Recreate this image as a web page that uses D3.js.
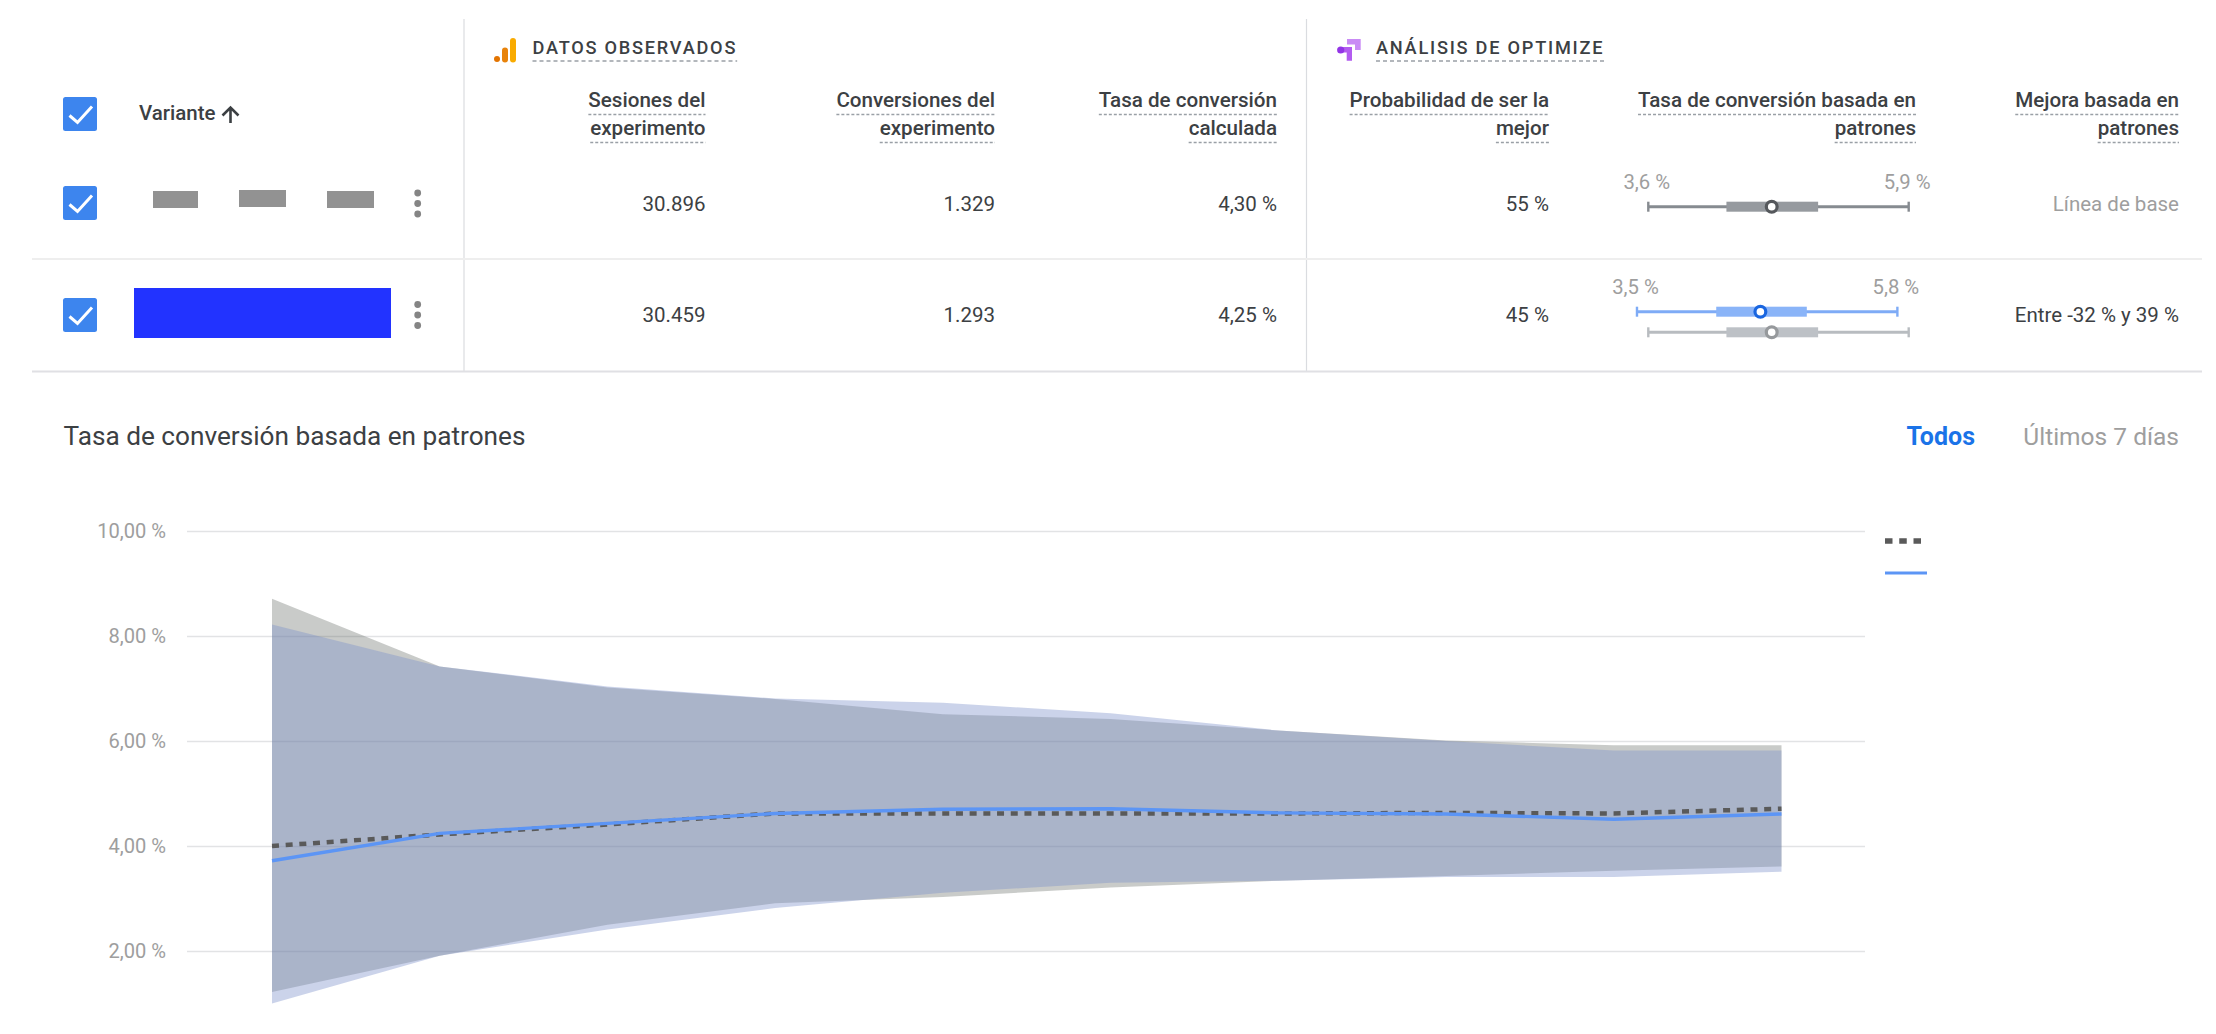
<!DOCTYPE html>
<html>
<head>
<meta charset="utf-8">
<script src="https://cdn.jsdelivr.net/npm/d3@7"></script>
<style>
  html, body { margin: 0; background: #fff; }
  svg { display: block; }
  text { font-family: Roboto, sans-serif; }
</style>
</head>
<body>
<svg id="chart" width="2216" height="1034"></svg>
<script>
// table
const columnHeaders = [
  ['Sesiones del', 'experimento'],
  ['Conversiones del', 'experimento'],
  ['Tasa de conversión', 'calculada'],
  ['Probabilidad de ser la', 'mejor'],
  ['Tasa de conversión basada en', 'patrones'],
  ['Mejora basada en', 'patrones']
];
const sessions = ['30.896', '30.459'];
const conversions = ['1.329', '1.293'];
const calcRates = ['4,30 %', '4,25 %'];
const bestProb = ['55 %', '45 %'];
const improvement = ['Línea de base', 'Entre -32 % y 39 %'];

// intervals of the small range plots: low, box low, centre, box high, high
const baselineRange = [3.6, 4.29, 4.69, 5.1, 5.9];
const variantRange = [3.5, 4.2, 4.59, 5.0, 5.8];

// time chart
const days = [1, 2, 3, 4, 5, 6, 7, 8, 9, 10];
const yTicks = [2, 4, 6, 8, 10];
const baselineUpper = [8.71, 7.42, 7.02, 6.80, 6.51, 6.42, 6.20, 6.01, 5.92, 5.92];
const baselineLower = [1.22, 1.91, 2.50, 2.91, 3.03, 3.21, 3.34, 3.43, 3.53, 3.61];
const variantUpper = [8.22, 7.42, 7.04, 6.81, 6.73, 6.53, 6.20, 6.00, 5.82, 5.82];
const variantLower = [1.00, 1.91, 2.41, 2.82, 3.11, 3.30, 3.34, 3.41, 3.41, 3.51];
const baselineRate = [4.00, 4.22, 4.41, 4.62, 4.62, 4.62, 4.62, 4.63, 4.62, 4.71];
const variantRate = [3.72, 4.24, 4.43, 4.62, 4.70, 4.71, 4.63, 4.61, 4.51, 4.61];

const svg = d3.select('#chart');
const colRight = [705.5, 995, 1277, 1549, 1916, 2179];
const rowY = [210.5, 322];
const textDark = '#3c4043';
const textGrey = '#9e9e9e';
const tableFont = 20.5;

// rules
svg.selectAll('.vrule').data([464, 1306.5]).enter().append('line')
  .attr('x1', d => d).attr('x2', d => d)
  .attr('y1', 19).attr('y2', 372)
  .attr('stroke', '#dadce0').attr('stroke-width', 1.2);
svg.append('line').attr('x1', 32).attr('x2', 2202).attr('y1', 259).attr('y2', 259)
  .attr('stroke', '#eeeeee').attr('stroke-width', 2);
svg.append('line').attr('x1', 32).attr('x2', 2202).attr('y1', 371.5).attr('y2', 371.5)
  .attr('stroke', '#e0e0e4').attr('stroke-width', 2);

// checkboxes
const boxes = svg.selectAll('.check').data([97, 186, 298]).enter().append('g')
  .attr('transform', d => 'translate(63,' + d + ')');
boxes.append('rect').attr('width', 34).attr('height', 34).attr('rx', 2.5).attr('fill', '#3d85ee');
boxes.append('path').attr('d', 'M6.5,18.5L14.5,25.5L29,9.5')
  .attr('fill', 'none').attr('stroke', '#fff').attr('stroke-width', 3);

svg.append('text').attr('x', 139).attr('y', 120)
  .attr('font-size', tableFont).attr('font-weight', 500).attr('fill', textDark).text('Variante');
svg.append('path').attr('d', 'M230.5,123V108M222.5,115.5L230.5,107.5L238.5,115.5')
  .attr('fill', 'none').attr('stroke', textDark).attr('stroke-width', 2.6);

// hidden variant names
svg.selectAll('.redact').data([[153, 191, 45], [239, 190, 47], [327, 191, 47]]).enter().append('rect')
  .attr('x', d => d[0]).attr('y', d => d[1]).attr('width', d => d[2]).attr('height', 17)
  .attr('fill', '#929292');
svg.append('rect').attr('x', 134).attr('y', 288).attr('width', 257).attr('height', 50).attr('fill', '#2233ff');

// row menus
[203.5, 315].forEach(cy => {
  svg.selectAll(null).data([-10.5, 0, 10.5]).enter().append('circle')
    .attr('cx', 417.7).attr('cy', d => cy + d).attr('r', 3.4).attr('fill', '#858585');
});

// section titles with dashed underline
function dashedUnder(sel, y, dash) {
  sel.each(function() {
    const bb = this.getBBox();
    svg.append('line')
      .attr('x1', bb.x).attr('x2', bb.x + bb.width)
      .attr('y1', y).attr('y2', y)
      .attr('stroke', '#9aa0a6').attr('stroke-width', 1.6)
      .attr('stroke-dasharray', dash);
  });
}

const sections = [['DATOS OBSERVADOS', 532.5], ['ANÁLISIS DE OPTIMIZE', 1376]];
svg.selectAll('.section').data(sections).enter().append('text')
  .attr('x', d => d[1]).attr('y', 54)
  .attr('font-size', 18.2).attr('font-weight', 500)
  .attr('letter-spacing', 1.75).attr('fill', textDark)
  .text(d => d[0])
  .call(dashedUnder, 61, '4 3');

// analytics icon
svg.append('circle').attr('cx', 497).attr('cy', 59).attr('r', 3).attr('fill', '#e37400');
svg.append('rect').attr('x', 502).attr('y', 47.5).attr('width', 6).attr('height', 15).attr('rx', 3).attr('fill', '#e8830b');
svg.append('rect').attr('x', 510).attr('y', 38).attr('width', 6).attr('height', 24.5).attr('rx', 3).attr('fill', '#f9ab00');

// optimize icon
svg.append('path').attr('d', 'M1347,39H1360.7V50H1355V44.5H1347Z').attr('fill', '#c98bf5');
svg.append('path').attr('d', 'M1340,47H1352V60.7H1346.7V52.5H1340Z').attr('fill', '#b35cf0');
svg.append('circle').attr('cx', 1340.7).attr('cy', 50).attr('r', 3.6).attr('fill', '#9334e6');

// column headers
columnHeaders.forEach((lines, i) => {
  lines.forEach((line, j) => {
    svg.append('text')
      .attr('x', colRight[i]).attr('y', 107 + j * 27.5)
      .attr('text-anchor', 'end')
      .attr('font-size', 20.6).attr('font-weight', 500).attr('fill', textDark)
      .text(line)
      .call(dashedUnder, 114.5 + j * 28, '3 2');
  });
});

// cells
[sessions, conversions, calcRates, bestProb].forEach((column, i) => {
  svg.selectAll(null).data(column).enter().append('text')
    .attr('x', colRight[i]).attr('y', (d, r) => rowY[r])
    .attr('text-anchor', 'end')
    .attr('font-size', tableFont).attr('fill', textDark)
    .text(d => d);
});
svg.selectAll(null).data(improvement).enter().append('text')
  .attr('x', colRight[5]).attr('y', (d, r) => rowY[r])
  .attr('text-anchor', 'end')
  .attr('font-size', tableFont).attr('fill', (d, r) => r === 0 ? textGrey : textDark)
  .text(d => d);

// range plots
const rangeX = d3.scaleLinear().domain([3.6, 5.9]).range([1648.3, 1908.7]);

function drawRange(values, y, line, box, ring) {
  const g = svg.append('g');
  g.append('line')
    .attr('x1', rangeX(values[0])).attr('x2', rangeX(values[4]))
    .attr('y1', y).attr('y2', y)
    .attr('stroke', line).attr('stroke-width', 3);
  g.selectAll('.cap').data([values[0], values[4]]).enter().append('line')
    .attr('x1', d => rangeX(d)).attr('x2', d => rangeX(d))
    .attr('y1', y - 5).attr('y2', y + 5)
    .attr('stroke', line).attr('stroke-width', 2.4);
  g.append('rect')
    .attr('x', rangeX(values[1])).attr('y', y - 5)
    .attr('width', rangeX(values[3]) - rangeX(values[1])).attr('height', 10)
    .attr('fill', box);
  g.append('circle')
    .attr('cx', rangeX(values[2])).attr('cy', y).attr('r', 5.4)
    .attr('fill', '#fff').attr('stroke', ring).attr('stroke-width', 3.2);
}

function rangeLabels(values, y) {
  svg.selectAll(null).data([values[0], values[4]]).enter().append('text')
    .attr('x', d => rangeX(d) - 1.5).attr('y', y)
    .attr('text-anchor', 'middle')
    .attr('font-size', 20.3).attr('fill', textGrey)
    .text(d => d3.format('.1f')(d).replace('.', ',') + ' %');
}

drawRange(baselineRange, 206.7, '#868b90', '#969a9f', '#55585c');
rangeLabels(baselineRange, 189);
drawRange(variantRange, 311.7, '#7eabf6', '#8ab4f8', '#1a66e0');
rangeLabels(variantRange, 294);
drawRange(baselineRange, 332.3, '#b8bcc0', '#bdc1c6', '#96999c');

// time chart
svg.append('text').attr('x', 63.5).attr('y', 445)
  .attr('font-size', 26.2).attr('fill', textDark)
  .text('Tasa de conversión basada en patrones');
svg.append('text').attr('x', 1975).attr('y', 445).attr('text-anchor', 'end')
  .attr('font-size', 25).attr('font-weight', 700).attr('fill', '#1a73e8').text('Todos');
svg.append('text').attr('x', 2179).attr('y', 445).attr('text-anchor', 'end')
  .attr('font-size', 24.5).attr('fill', textGrey).text('Últimos 7 días');

const x = d3.scalePoint().domain(days).range([272, 1781.5]);
const y = d3.scaleLinear().domain([0, 10]).range([1056, 531]);

svg.append('g')
  .attr('transform', 'translate(187,0)')
  .call(d3.axisLeft(y).tickValues(yTicks).tickSize(-1678).tickPadding(21)
    .tickFormat(d => d3.format('.2f')(d).replace('.', ',') + ' %'))
  .call(g => g.select('.domain').remove())
  .call(g => g.selectAll('.tick line').attr('stroke', '#e2e3e5').attr('stroke-width', 1.6))
  .call(g => g.selectAll('.tick text')
    .attr('font-family', 'Roboto, sans-serif').attr('font-size', 20.1).attr('fill', textGrey));

function band(upper, lower) {
  return d3.area()
    .x((d, i) => x(days[i]))
    .y0((d, i) => y(lower[i]))
    .y1((d, i) => y(upper[i]))(days);
}
svg.append('path').attr('d', band(baselineUpper, baselineLower))
  .attr('fill', 'rgb(91,97,91)').attr('fill-opacity', 0.33);
svg.append('path').attr('d', band(variantUpper, variantLower))
  .attr('fill', 'rgb(124,146,202)').attr('fill-opacity', 0.4);

const line = d3.line().x((d, i) => x(days[i])).y(d => y(d));
svg.append('path').attr('d', line(baselineRate))
  .attr('fill', 'none').attr('stroke', '#5a5a5a').attr('stroke-width', 4.5)
  .attr('stroke-dasharray', '7 6.7');
svg.append('path').attr('d', line(variantRate))
  .attr('fill', 'none').attr('stroke', '#5c95f5').attr('stroke-width', 3.4);

// legend, names are blanked in the source
svg.append('line').attr('x1', 1885).attr('x2', 1921).attr('y1', 541).attr('y2', 541)
  .attr('stroke', '#5a5a5a').attr('stroke-width', 5.5).attr('stroke-dasharray', '7.5 6.75');
svg.append('line').attr('x1', 1885).attr('x2', 1927).attr('y1', 573).attr('y2', 573)
  .attr('stroke', '#5c95f5').attr('stroke-width', 3);
</script>
</body>
</html>
